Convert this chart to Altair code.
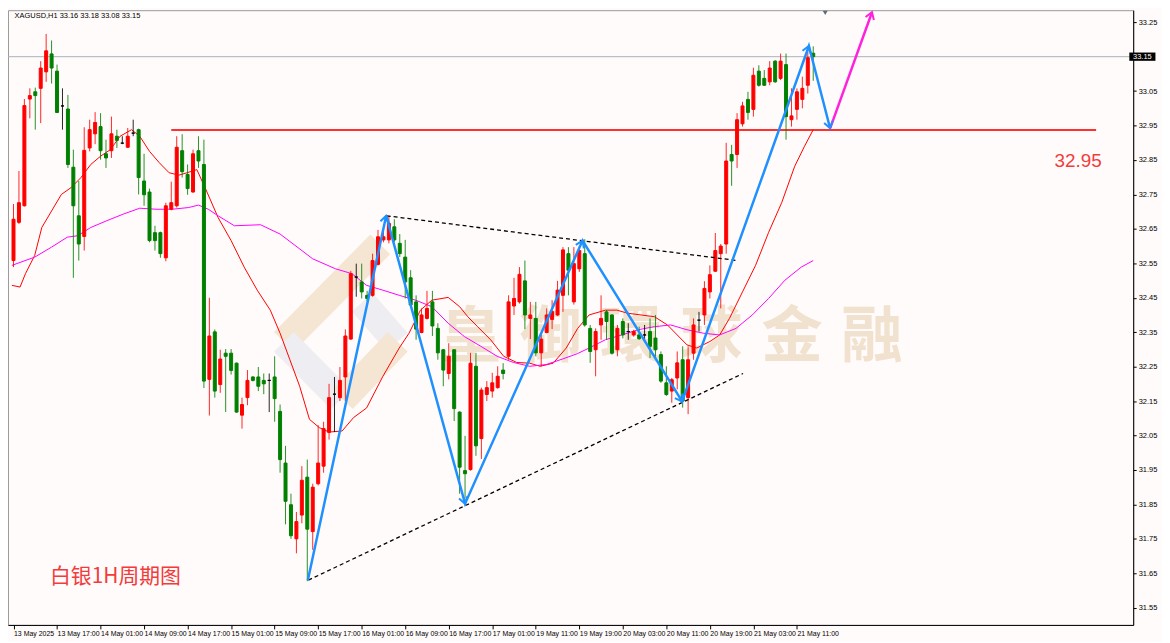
import math
import altair as alt
import pandas as pd

# ---------------- data ----------------
# hourly XAGUSD bars, index 0 = first visible bar (13 May 2025)
opens = [32.558, 32.669, 32.717, 33.027, 33.048, 33.058, 33.106, 33.158, 33.108, 33.007,
         32.998, 32.829, 32.688, 32.628, 32.885, 32.926, 32.947, 32.868, 32.877, 32.919,
         32.899, 32.887, 32.928, 32.938, 32.789, 32.757, 32.639, 32.639, 32.566, 32.707,
         32.717, 32.877, 32.808, 32.757, 32.877, 32.837, 32.213, 32.351, 32.198, 32.289,
         32.289, 32.260, 32.109, 32.160, 32.220, 32.220, 32.210, 32.210, 32.220, 32.120,
         31.970, 31.849, 31.750, 31.819, 31.929, 31.771, 31.910, 31.961, 32.059, 32.170,
         32.160, 32.220, 32.330, 32.510, 32.496, 32.457, 32.457, 32.547, 32.618, 32.618,
         32.656, 32.608, 32.568, 32.508, 32.438, 32.349, 32.390, 32.438, 32.361, 32.299,
         32.230, 32.299, 32.118, 31.948, 31.951, 32.251, 32.041, 32.169, 32.179, 32.189,
         32.240, 32.280, 32.426, 32.438, 32.499, 32.390, 32.390, 32.290, 32.349, 32.387,
         32.400, 32.457, 32.578, 32.438, 32.534, 32.578, 32.361, 32.299, 32.371, 32.409,
         32.400, 32.299, 32.381, 32.352, 32.342, 32.342, 32.342, 32.352, 32.333, 32.285,
         32.203, 32.179, 32.217, 32.270, 32.160, 32.289, 32.385, 32.400, 32.467, 32.527,
         32.578, 32.606, 32.866, 32.866, 32.955, 33.026, 32.997, 33.108, 33.087, 33.077,
         33.137, 33.087, 33.127, 32.967, 32.997, 33.026, 33.067, 33.160]
highs = [32.722, 32.818, 33.027, 33.058, 33.060, 33.137, 33.216, 33.197, 33.127, 33.058,
         33.039, 32.880, 32.789, 32.945, 32.967, 32.989, 32.986, 32.909, 32.976, 32.938,
         32.919, 32.943, 32.967, 32.941, 32.868, 32.767, 32.659, 32.642, 32.726, 32.787,
         32.919, 32.925, 32.837, 32.880, 32.919, 32.909, 32.450, 32.358, 32.299, 32.301,
         32.301, 32.262, 32.160, 32.240, 32.222, 32.249, 32.230, 32.230, 32.280, 32.140,
         32.020, 31.881, 31.828, 31.961, 31.980, 31.910, 32.080, 32.090, 32.200, 32.220,
         32.249, 32.358, 32.528, 32.549, 32.549, 32.470, 32.578, 32.647, 32.645, 32.688,
         32.678, 32.635, 32.618, 32.530, 32.457, 32.419, 32.470, 32.470, 32.376, 32.301,
         32.318, 32.300, 32.120, 32.049, 32.290, 32.290, 32.189, 32.208, 32.232, 32.251,
         32.260, 32.457, 32.508, 32.539, 32.558, 32.438, 32.438, 32.349, 32.419, 32.443,
         32.499, 32.597, 32.597, 32.597, 32.600, 32.620, 32.371, 32.361, 32.457, 32.414,
         32.402, 32.371, 32.390, 32.376, 32.357, 32.366, 32.371, 32.390, 32.400, 32.294,
         32.251, 32.217, 32.294, 32.309, 32.309, 32.390, 32.409, 32.498, 32.544, 32.638,
         32.606, 32.900, 32.894, 32.986, 33.019, 33.048, 33.118, 33.125, 33.111, 33.137,
         33.140, 33.159, 33.159, 33.058, 33.058, 33.092, 33.178, 33.180]
lows = [32.539, 32.664, 32.715, 32.971, 32.938, 32.957, 33.077, 33.072, 32.986, 32.938,
        32.827, 32.508, 32.558, 32.587, 32.875, 32.896, 32.851, 32.827, 32.856, 32.885,
        32.896, 32.885, 32.919, 32.750, 32.717, 32.611, 32.587, 32.566, 32.556, 32.704,
        32.712, 32.799, 32.749, 32.755, 32.827, 32.188, 32.108, 32.160, 32.174, 32.118,
        32.227, 32.116, 32.070, 32.138, 32.207, 32.179, 32.170, 32.118, 32.090, 31.942,
        31.792, 31.750, 31.708, 31.795, 31.627, 31.718, 31.905, 31.942, 32.038, 32.060,
        32.150, 32.150, 32.328, 32.453, 32.448, 32.440, 32.453, 32.544, 32.611, 32.608,
        32.611, 32.568, 32.448, 32.424, 32.328, 32.347, 32.387, 32.339, 32.270, 32.193,
        32.213, 32.092, 31.881, 31.867, 31.948, 31.991, 31.982, 32.150, 32.160, 32.186,
        32.213, 32.270, 32.400, 32.433, 32.359, 32.330, 32.280, 32.251, 32.347, 32.359,
        32.397, 32.409, 32.457, 32.430, 32.525, 32.366, 32.261, 32.222, 32.328, 32.328,
        32.285, 32.280, 32.332, 32.328, 32.337, 32.328, 32.323, 32.275, 32.270, 32.203,
        32.165, 32.145, 32.184, 32.131, 32.112, 32.270, 32.352, 32.371, 32.448, 32.525,
        32.419, 32.578, 32.775, 32.827, 32.947, 32.967, 32.976, 33.063, 33.065, 33.067,
        33.074, 33.082, 32.909, 32.947, 32.967, 33.000, 33.043, 33.080]
closes = [32.678, 32.726, 33.008, 33.037, 33.037, 33.117, 33.167, 33.117, 32.988, 33.007,
          32.837, 32.717, 32.606, 32.878, 32.938, 32.959, 32.877, 32.856, 32.926, 32.907,
          32.899, 32.919, 32.928, 32.799, 32.749, 32.616, 32.616, 32.578, 32.717, 32.726,
          32.887, 32.816, 32.767, 32.868, 32.847, 32.208, 32.339, 32.179, 32.272, 32.280,
          32.239, 32.118, 32.140, 32.210, 32.210, 32.193, 32.200, 32.210, 32.157, 31.980,
          31.859, 31.759, 31.800, 31.920, 31.778, 31.900, 31.970, 32.070, 32.160, 32.170,
          32.210, 32.339, 32.520, 32.510, 32.467, 32.448, 32.558, 32.627, 32.627, 32.666,
          32.618, 32.578, 32.496, 32.429, 32.359, 32.400, 32.419, 32.368, 32.290, 32.240,
          32.280, 32.128, 31.958, 31.939, 32.260, 32.020, 32.182, 32.189, 32.203, 32.222,
          32.230, 32.438, 32.448, 32.518, 32.400, 32.400, 32.290, 32.330, 32.400, 32.410,
          32.472, 32.589, 32.530, 32.549, 32.587, 32.371, 32.294, 32.352, 32.390, 32.381,
          32.289, 32.361, 32.342, 32.352, 32.352, 32.331, 32.342, 32.309, 32.299, 32.208,
          32.169, 32.212, 32.261, 32.150, 32.270, 32.371, 32.385, 32.477, 32.517, 32.587,
          32.600, 32.847, 32.847, 32.967, 33.007, 32.988, 33.096, 33.067, 33.067, 33.117,
          33.077, 33.137, 32.976, 32.978, 33.048, 33.058, 33.147, 33.150]

tick_bars = [0, 8, 16, 24, 32, 40, 48, 56, 64, 72, 80, 88, 96, 104, 112, 120, 128, 136, 144]
tick_labels = ["13 May 2025", "13 May 17:00", "14 May 01:00", "14 May 09:00", "14 May 17:00",
               "15 May 01:00", "15 May 09:00", "15 May 17:00", "16 May 01:00", "16 May 09:00",
               "16 May 17:00", "17 May 01:00", "19 May 11:00", "19 May 19:00", "20 May 03:00",
               "20 May 11:00", "20 May 19:00", "21 May 03:00", "21 May 11:00"]
# 33.15 is shown in the black current-price box instead
price_ticks = [31.55, 31.65, 31.75, 31.85, 31.95, 32.05, 32.15, 32.25, 32.35, 32.45,
               32.55, 32.65, 32.75, 32.85, 32.95, 33.05, 33.25]

# moving averages (bar position, price)
ma_fast_k = [-0.3, 1.2, 2.2, 3.9, 5.2, 7, 8.8, 10.6, 12.4, 14.2, 16, 17.8, 19.6, 21.7, 23.2, 25,
             26.8, 28.6, 30.4, 31.9, 33.7, 35.2, 37.6, 40, 42.4, 44.8, 47.2, 49, 50.8, 52.6,
             54.4, 56.2, 58, 60.4, 62.5, 64.9, 67.9, 70.9, 72.7, 74.8, 76.9, 79.9, 82, 83.5,
             85.3, 87.7, 90.1, 92.5, 94.9, 96.8, 99.2, 101.6, 103.7, 105.8, 108.8, 110.9,
             112.9, 117.8, 120.2, 122, 123.8, 125.6, 128, 129.8, 131.6, 134, 136.4, 138.8,
             141.2, 143.6, 145.4, 147]
ma_fast_v = [32.486, 32.481, 32.52, 32.573, 32.654, 32.702, 32.75, 32.77, 32.799, 32.837,
             32.861, 32.88, 32.919, 32.938, 32.919, 32.875, 32.842, 32.813, 32.806, 32.813,
             32.822, 32.77, 32.683, 32.616, 32.539, 32.472, 32.414, 32.347, 32.27, 32.193,
             32.097, 32.073, 32.06, 32.063, 32.102, 32.13, 32.222, 32.304, 32.347, 32.414,
             32.443, 32.451, 32.424, 32.395, 32.366, 32.328, 32.28, 32.262, 32.26, 32.251,
             32.26, 32.304, 32.361, 32.4, 32.414, 32.414, 32.405, 32.395, 32.371, 32.342,
             32.313, 32.304, 32.323, 32.342, 32.39, 32.467, 32.544, 32.64, 32.726, 32.832,
             32.89, 32.938]
ma_slow_k = [-0.3, 3.9, 7, 9.9, 11.8, 14.2, 17.2, 20.2, 23.2, 26.2, 29.2, 32.2, 34, 35.8,
             37.6, 40.6, 45.4, 49, 55, 59.2, 62.2, 64.9, 67.9, 70.9, 73.9, 76.9, 79.9, 82.9,
             85.9, 88.9, 91.9, 94.9, 97.9, 100.9, 103.7, 105.8, 108.8, 111.8, 114.8, 117.8,
             120.8, 123.8, 126.8, 129.8, 132.8, 135.8, 138.8, 141.8, 144.8, 147]
ma_slow_v = [32.544, 32.568, 32.597, 32.626, 32.63, 32.654, 32.674, 32.693, 32.71, 32.707,
             32.707, 32.712, 32.719, 32.707, 32.688, 32.659, 32.662, 32.635, 32.563, 32.534,
             32.52, 32.486, 32.472, 32.457, 32.443, 32.424, 32.376, 32.337, 32.309, 32.28,
             32.262, 32.251, 32.256, 32.272, 32.288, 32.304, 32.328, 32.342, 32.357, 32.366,
             32.371, 32.357, 32.347, 32.342, 32.361, 32.4, 32.448, 32.501, 32.539, 32.558]

# drawn analysis objects
zig_k = [54.1, 68.5, 83.0, 104.6, 122.9, 146.2, 150.1]
zig_p = [31.630, 32.688, 31.852, 32.616, 32.149, 33.181, 32.942]
proj_k = [150.1, 157.8]
proj_p = [32.942, 33.279]
upper_k = [68.6, 133.0]
upper_p = [32.688, 32.558]
lower_k = [54.2, 134.1]
lower_p = [31.630, 32.230]
level_k = [29.0, 199.0]
level_p = [32.937, 32.937]
last_price = 33.15

# watermark
wm_chars = ["皇", "御", "環", "球", "金", "融"]
wm_k = [84.0, 98.7, 113.5, 128.3, 143.1, 157.8]
wm_p = 32.334
logo_seg = ["a", "a", "b", "b", "c", "c", "d", "d"]
logo_col = ["#F4E6D2", "#F4E6D2", "#EEEDF1", "#EEEDF1", "#EEEDF1", "#EEEDF1", "#F4E6D2", "#F4E6D2"]
logo_k = [49.7, 67.4, 49.7, 60.2, 64.1, 70.5, 60.5, 70.6]
logo_p = [32.322, 32.605, 32.322, 32.155, 32.437, 32.322, 32.155, 32.322]

# ---------------- chart ----------------
X_DOM = [-0.1, 204.9]
Y_DOM = [31.50, 33.285]
W, H = 1133, 619
FONT = "Liberation Sans"

xs = alt.Scale(domain=X_DOM, nice=False, zero=False)
ys = alt.Scale(domain=Y_DOM, nice=False, zero=False)
label_arr = "[" + ",".join("'" + t + "'" for t in tick_labels) + "]"
x_axis = alt.Axis(values=tick_bars, labelExpr=label_arr + "[round(datum.value/8)]",
                  labelAlign="left", labelBaseline="top", labelPadding=1,
                  tickSize=4, tickColor="black", domainColor="black", labelColor="black",
                  labelFont=FONT, labelFontSize=7, labelOverlap=False, labelFlush=False,
                  labelBound=False, grid=False, title=None)
y_axis = alt.Axis(orient="right", values=price_ticks, format=".2f", tickSize=3, labelPadding=2,
                  tickColor="black", domainColor="black", labelColor="black",
                  labelFont=FONT, labelFontSize=7.5, labelOverlap=False, labelFlush=False,
                  grid=False, title=None)


def X(f):
    return alt.X(f, type="quantitative", scale=xs, axis=x_axis)


def Y(f):
    return alt.Y(f, type="quantitative", scale=ys, axis=y_axis)


n = len(opens)
cdf = pd.DataFrame({"k": list(range(n)), "o": opens, "h": highs, "l": lows, "c": closes})
cdf["lo"] = cdf[["o", "c"]].min(axis=1)
cdf["hi"] = cdf[["o", "c"]].max(axis=1)
cdf["dir"] = ["up" if c > o else ("down" if c < o else "flat") for o, c in zip(opens, closes)]
cscale = alt.Scale(domain=["up", "down", "flat"], range=["#FF0000", "#008000", "#000000"])

logo = alt.Chart(pd.DataFrame({"seg": logo_seg, "col": logo_col, "k": logo_k, "p": logo_p})).mark_line(
    strokeWidth=28, strokeCap="butt").encode(
    x=X("k"), y=Y("p"), detail="seg:N", color=alt.Color("col:N", scale=None))

wm = alt.Chart(pd.DataFrame({"t": wm_chars, "k": wm_k, "p": [wm_p] * len(wm_chars)})).mark_text(
    font="Noto Sans CJK SC", fontSize=62, fontWeight="bold", color="#F1E2CF").encode(
    x=X("k"), y=Y("p"), text="t:N")

price_line = alt.Chart(pd.DataFrame({"p": [last_price]})).mark_rule(
    color="#A9B1BA", strokeWidth=1).encode(y=Y("p"))

level = alt.Chart(pd.DataFrame({"k": level_k, "p": level_p})).mark_line(
    color="#FF3030", strokeWidth=2).encode(x=X("k"), y=Y("p"))

ma_fast = alt.Chart(pd.DataFrame({"k": ma_fast_k, "p": ma_fast_v})).mark_line(
    color="#FF0000", strokeWidth=1).encode(x=X("k"), y=Y("p"))
ma_slow = alt.Chart(pd.DataFrame({"k": ma_slow_k, "p": ma_slow_v})).mark_line(
    color="#FF00FF", strokeWidth=1).encode(x=X("k"), y=Y("p"))

wicks = alt.Chart(cdf).mark_rule(strokeWidth=1, opacity=0.85).encode(
    x=X("k"), y=Y("l"), y2="h", color=alt.Color("dir:N", scale=cscale, legend=None))
bodies = alt.Chart(cdf).mark_bar(size=3, strokeWidth=1).encode(
    x=X("k"), y=Y("lo"), y2="hi",
    color=alt.Color("dir:N", scale=cscale, legend=None),
    stroke=alt.Stroke("dir:N", scale=cscale, legend=None))

tri_df = pd.DataFrame({"name": ["u", "u", "l", "l"], "k": upper_k + lower_k, "p": upper_p + lower_p})
tri = alt.Chart(tri_df).mark_line(color="black", strokeWidth=1.3, strokeDash=[4, 3]).encode(
    x=X("k"), y=Y("p"), detail="name:N")

zig = alt.Chart(pd.DataFrame({"k": zig_k, "p": zig_p, "i": list(range(len(zig_k)))})).mark_line(
    color="#1E90FF", strokeWidth=2.5).encode(x=X("k"), y=Y("p"), order="i:Q")
proj = alt.Chart(pd.DataFrame({"k": proj_k, "p": proj_p})).mark_line(
    color="#FF22DD", strokeWidth=2.5).encode(x=X("k"), y=Y("p"))

sx = W / (X_DOM[1] - X_DOM[0])
sy = H / (Y_DOM[1] - Y_DOM[0])


def head_angle(k1, p1, k2, p2):
    dx = (k2 - k1) * sx
    dy = (p2 - p1) * sy
    return math.degrees(math.atan2(dx, dy)) % 360


heads = []
for i in range(1, len(zig_k)):
    heads.append({"k": zig_k[i], "p": zig_p[i], "col": "#1E90FF",
                  "a": head_angle(zig_k[i - 1], zig_p[i - 1], zig_k[i], zig_p[i])})
heads.append({"k": proj_k[1], "p": proj_p[1], "col": "#FF22DD",
              "a": head_angle(proj_k[0], proj_p[0], proj_k[1], proj_p[1])})
arrow_heads = alt.Chart(pd.DataFrame(heads)).mark_point(
    shape="M -0.6 0.9 L 0 0 L 0.6 0.9", filled=False, strokeWidth=2, size=220, opacity=1).encode(
    x=X("k"), y=Y("p"), angle=alt.Angle("a:Q", scale=None), stroke=alt.Stroke("col:N", scale=None))

marker = alt.Chart(pd.DataFrame({"k": [149.2], "p": [33.277]})).mark_point(
    shape="triangle-down", filled=True, size=25, color="#5F6B78", opacity=1).encode(x=X("k"), y=Y("p"))

lvl_text = alt.Chart(pd.DataFrame({"k": [195.7], "p": [32.847], "t": ["32.95"]})).mark_text(
    font=FONT, fontSize=19, color="#F23C3C").encode(x=X("k"), y=Y("p"), text="t:N")

title_text = alt.Chart(pd.DataFrame({"k": [6.7], "p": [31.639], "t": ["白银1H周期图"]})).mark_text(
    font="Noto Sans CJK SC", fontSize=21, color="#F23C3C", align="left").encode(
    x=X("k"), y=Y("p"), text="t:N")

header = f"XAGUSD,H1  {opens[-1]:.2f} {highs[-1]:.2f} {lows[-1]:.2f} {closes[-1]:.2f}"
head_text = alt.Chart(pd.DataFrame({"k": [0.2], "p": [33.281], "t": [header]})).mark_text(
    font=FONT, fontSize=7.5, color="black", align="left", baseline="top").encode(
    x=X("k"), y=Y("p"), text="t:N")

box = alt.Chart(pd.DataFrame({"k": [205.1], "k2": [209.9], "p": [last_price - 0.012],
                              "p2": [last_price + 0.012]})).mark_rect(color="black").encode(
    x=X("k"), x2="k2", y=Y("p"), y2="p2")
box_text = alt.Chart(pd.DataFrame({"k": [207.5], "p": [last_price], "t": [f"{last_price:.2f}"]})).mark_text(
    font=FONT, fontSize=7.5, color="white").encode(x=X("k"), y=Y("p"), text="t:N")

chart = alt.layer(
    logo, wm, price_line, level, ma_fast, ma_slow, wicks, bodies, tri, zig, proj,
    arrow_heads, marker, lvl_text, title_text, head_text, box, box_text
).properties(
    width=W, height=H, background="#FFFBFA",
    autosize=alt.AutoSizeParams(type="none"),
    padding={"left": 0, "top": 0, "right": 29, "bottom": 15}
).configure_view(stroke="#9A9A9A", strokeWidth=1)

chart.save("out.html", embed_options={"renderer": "svg", "actions": False})
